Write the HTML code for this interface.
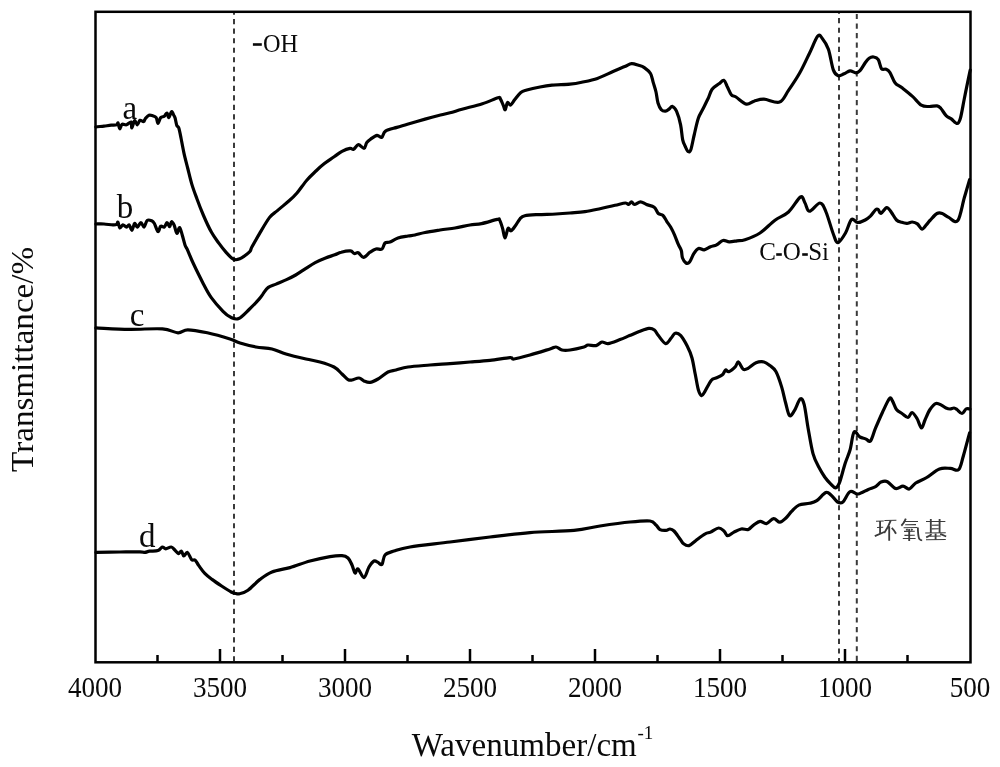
<!DOCTYPE html>
<html><head><meta charset="utf-8"><style>
html,body{margin:0;padding:0;background:#fff;width:1000px;height:767px;overflow:hidden}
svg{display:block;will-change:transform}
text{font-family:"Liberation Serif",serif;fill:#0a0a0a}
</style></head><body>
<svg width="1000" height="767" viewBox="0 0 1000 767">
<defs><clipPath id="cp"><rect x="95" y="11.5" width="875.5" height="651"/></clipPath></defs>
<g stroke="#3a3a3a" stroke-width="2" fill="none" clip-path="url(#cp)">
<line x1="234" y1="9.6" x2="234" y2="661" stroke-dasharray="5.2,4.31"/>
<line x1="839" y1="8.55" x2="839" y2="661" stroke-dasharray="5.2,4.35"/>
<line x1="856.8" y1="4.3" x2="856.8" y2="661" stroke-dasharray="5.2,4.38"/>
</g>
<g fill="none" stroke="#000" stroke-width="3.2" stroke-linejoin="round" stroke-linecap="round">
<path d="M95.9,127.0C97.2,126.8 101.5,126.4 104.0,126.1C106.5,125.8 109.1,125.4 111.2,125.2C113.3,125.0 115.5,125.2 116.6,124.8C117.7,124.4 117.5,122.3 118.0,123.0C118.5,123.7 119.1,128.6 119.8,128.8C120.5,129.0 120.9,125.0 122.0,124.3C123.1,123.6 125.0,125.2 126.5,124.8C128.0,124.4 130.1,121.5 131.0,122.0C131.9,122.5 131.3,128.1 131.9,127.9C132.5,127.7 133.7,121.2 134.6,120.7C135.5,120.2 136.4,124.9 137.3,124.8C138.2,124.7 138.9,120.8 140.0,120.3C141.1,119.8 142.7,121.9 143.6,121.6C144.5,121.3 144.5,119.5 145.4,118.5C146.3,117.5 147.8,115.8 149.0,115.3C150.2,114.8 151.4,115.4 152.6,115.8C153.8,116.2 155.3,116.3 156.2,117.6C157.1,118.9 157.2,123.4 158.0,123.4C158.8,123.4 159.6,118.8 160.7,117.6C161.8,116.4 163.2,117.0 164.3,116.2C165.4,115.4 166.2,112.8 167.0,113.0C167.8,113.2 168.1,117.8 168.8,117.6C169.6,117.4 170.7,112.1 171.5,111.7C172.3,111.3 173.2,114.2 173.8,115.3C174.4,116.3 174.6,116.3 175.1,118.0C175.6,119.7 176.2,123.8 176.8,125.5C177.4,127.2 178.1,125.9 178.8,128.0C179.5,130.1 180.2,133.9 181.0,138.0C181.8,142.1 182.8,147.7 183.9,152.8C185.0,157.9 186.5,163.3 187.8,168.5C189.1,173.7 190.3,179.0 191.8,184.1C193.3,189.2 195.1,193.8 197.0,199.0C198.9,204.2 201.1,209.9 203.5,215.5C205.9,221.1 208.9,227.7 211.5,232.3C214.1,236.9 216.4,239.8 218.8,243.2C221.2,246.5 224.0,250.0 226.1,252.4C228.2,254.8 230.1,256.7 231.6,257.9C233.1,259.1 233.9,259.5 235.3,259.7C236.7,259.9 238.3,259.4 239.8,258.8C241.3,258.2 242.7,257.2 244.4,256.0C246.1,254.8 248.6,253.0 249.9,251.5C251.2,250.0 250.3,249.9 252.0,246.8C253.7,243.7 256.9,238.0 259.8,233.1C262.7,228.2 266.7,221.2 269.6,217.4C272.5,213.7 274.1,213.4 277.4,210.6C280.6,207.8 285.8,203.7 289.1,200.8C292.4,197.9 294.1,196.4 297.0,193.0C299.9,189.6 303.6,183.9 306.8,180.2C310.1,176.4 313.6,173.3 316.5,170.5C319.4,167.7 321.5,165.9 324.4,163.6C327.3,161.3 331.2,158.9 334.1,156.8C337.0,154.8 339.4,152.7 342.0,151.3C344.6,149.9 348.1,148.6 350.0,148.3C351.9,148.0 352.2,149.9 353.6,149.3C355.0,148.7 356.6,144.9 358.3,144.7C360.1,144.5 362.7,148.7 364.1,148.3C365.5,148.0 365.6,144.2 366.7,142.6C367.8,141.0 369.2,140.1 370.9,138.9C372.6,137.7 375.3,135.6 377.1,135.3C378.9,135.1 380.4,138.1 381.8,137.4C383.2,136.7 383.0,132.8 385.5,131.1C388.0,129.4 393.2,128.5 396.9,127.4C400.5,126.3 402.7,125.7 407.4,124.3C412.1,122.9 419.9,120.6 425.1,119.1C430.3,117.6 434.5,116.5 438.6,115.5C442.8,114.5 446.1,113.8 450.0,112.8C453.9,111.8 456.6,110.7 462.0,109.2C467.4,107.7 476.4,105.7 482.4,103.8C488.4,101.9 495.0,98.6 498.0,97.8C501.0,97.0 499.5,97.7 500.4,99.0C501.3,100.3 502.6,103.8 503.4,105.6C504.2,107.4 504.5,110.3 505.2,109.8C505.9,109.3 506.5,103.4 507.4,102.6C508.3,101.8 509.4,105.5 510.6,105.0C511.8,104.5 513.1,101.7 514.8,99.6C516.5,97.5 518.8,94.0 520.8,92.4C522.8,90.8 523.6,90.9 526.8,90.0C530.0,89.1 535.8,87.8 540.0,87.0C544.2,86.2 547.0,85.7 552.0,85.2C557.0,84.7 565.0,84.7 570.0,84.2C575.0,83.7 577.1,83.3 581.7,82.3C586.3,81.3 592.2,80.2 597.4,78.4C602.6,76.6 608.4,73.5 613.0,71.5C617.6,69.5 621.7,67.9 624.8,66.6C627.9,65.3 629.3,63.9 631.6,63.7C633.9,63.5 636.4,64.7 638.5,65.3C640.6,65.9 642.3,66.2 644.3,67.6C646.3,69.0 649.0,71.0 650.5,73.5C652.0,76.0 652.3,79.3 653.2,82.4C654.1,85.5 655.2,88.6 656.0,92.0C656.8,95.4 657.1,100.0 658.0,103.0C658.9,106.0 660.1,108.4 661.4,109.8C662.6,111.2 664.2,111.3 665.5,111.2C666.8,111.1 667.9,109.9 669.0,109.1C670.1,108.3 671.1,106.1 672.4,106.4C673.6,106.8 675.1,108.1 676.5,111.2C677.9,114.3 679.6,120.1 680.6,124.9C681.6,129.7 681.9,136.2 682.7,139.9C683.5,143.6 684.5,144.9 685.4,146.8C686.3,148.8 687.3,151.2 688.2,151.6C689.1,152.0 689.9,152.3 690.9,149.5C691.9,146.7 693.0,139.8 694.3,134.5C695.5,129.2 697.0,122.1 698.4,118.0C699.8,113.9 700.9,113.0 702.5,109.8C704.1,106.6 706.4,102.2 708.0,98.8C709.6,95.4 710.3,91.7 712.1,89.2C713.9,86.7 717.0,85.3 719.0,83.8C721.0,82.3 722.4,79.8 723.8,80.3C725.2,80.8 726.0,84.1 727.2,86.5C728.5,88.9 729.8,93.0 731.3,94.7C732.8,96.5 733.5,95.4 736.0,97.0C738.5,98.6 743.3,103.4 746.3,104.1C749.3,104.8 751.2,102.0 754.1,101.2C757.0,100.4 759.7,99.1 763.9,99.2C768.1,99.3 775.4,103.6 779.5,102.1C783.6,100.6 785.1,95.3 788.5,90.4C791.9,85.5 796.3,79.0 799.8,72.8C803.3,66.6 806.5,59.3 809.5,53.2C812.5,47.1 815.5,38.7 817.6,36.2C819.7,33.7 820.5,36.2 822.3,38.4C824.1,40.6 826.6,44.0 828.4,49.3C830.2,54.5 831.7,65.5 833.3,69.9C834.9,74.3 836.4,75.1 838.2,75.7C840.0,76.3 842.1,74.6 844.1,73.8C846.1,73.0 848.0,71.1 850.0,70.9C852.0,70.7 854.1,72.8 855.8,72.8C857.5,72.8 858.4,72.4 860.0,70.7C861.6,69.0 863.7,64.9 865.2,62.8C866.7,60.7 867.7,59.3 869.1,58.3C870.5,57.3 872.2,56.8 873.7,57.0C875.2,57.2 877.0,57.6 878.3,59.6C879.6,61.6 880.2,67.1 881.5,68.7C882.8,70.3 884.7,68.7 886.1,69.3C887.5,69.9 888.5,70.3 890.0,72.6C891.5,74.9 893.2,80.5 895.2,83.0C897.2,85.5 898.9,85.4 901.7,87.6C904.5,89.8 908.9,93.2 912.2,96.1C915.5,99.0 918.5,103.5 921.3,105.2C924.1,106.9 926.5,106.4 929.1,106.5C931.7,106.6 935.0,105.6 937.0,105.9C939.0,106.2 939.4,106.9 940.9,108.5C942.4,110.1 944.4,113.9 946.1,115.6C947.8,117.3 949.4,117.6 951.3,118.9C953.1,120.2 955.7,123.6 957.2,123.5C958.7,123.4 959.2,122.4 960.4,118.3C961.6,114.2 963.0,105.2 964.3,98.7C965.6,92.2 967.3,83.9 968.3,79.1C969.3,74.3 969.9,71.5 970.2,70.0"/>
<path d="M95.9,224.0C97.2,224.0 101.2,223.8 104.0,224.0C106.8,224.2 110.9,224.8 113.0,224.9C115.1,225.0 115.8,224.9 116.6,224.4C117.4,223.9 117.5,221.6 118.0,222.2C118.5,222.8 119.0,227.6 119.8,228.0C120.6,228.4 121.8,225.1 122.9,224.9C124.0,224.8 125.5,227.1 126.5,227.1C127.5,227.1 128.3,224.4 129.2,224.9C130.1,225.4 131.0,230.5 131.9,230.3C132.8,230.1 133.7,224.0 134.6,223.5C135.5,223.0 136.2,227.2 137.3,227.1C138.4,226.9 139.8,222.6 140.9,222.6C142.0,222.6 143.1,227.5 144.1,227.1C145.1,226.7 145.9,221.4 147.2,220.4C148.5,219.4 150.5,220.3 151.7,220.8C152.9,221.3 153.3,221.7 154.4,223.5C155.5,225.3 156.9,231.2 158.0,231.6C159.1,232.0 159.6,226.9 160.7,226.2C161.8,225.4 163.2,227.7 164.3,227.1C165.4,226.5 166.1,222.7 167.0,222.6C167.9,222.5 168.9,226.8 169.7,226.7C170.4,226.5 170.8,221.9 171.5,221.7C172.2,221.5 173.3,223.4 174.2,225.3C175.1,227.2 176.0,233.0 176.9,233.4C177.8,233.8 178.7,227.3 179.6,227.6C180.5,227.9 181.4,232.3 182.3,235.2C183.2,238.1 184.1,242.4 185.0,245.0C185.9,247.6 186.4,247.4 187.8,250.6C189.2,253.8 191.1,258.8 193.7,264.3C196.3,269.9 200.5,278.3 203.4,283.9C206.3,289.4 208.0,293.0 211.3,297.6C214.6,302.2 219.8,308.0 223.0,311.3C226.2,314.6 228.2,316.1 230.8,317.3C233.4,318.5 235.6,319.9 238.7,318.6C241.8,317.3 245.7,312.8 249.1,309.5C252.5,306.2 256.8,301.7 259.1,299.1C261.4,296.5 261.5,295.8 263.0,293.9C264.5,291.9 266.1,289.0 268.3,287.4C270.5,285.8 273.1,285.4 276.1,284.1C279.1,282.8 283.2,281.1 286.5,279.6C289.8,278.1 292.6,276.8 295.7,275.0C298.8,273.2 301.6,271.2 304.8,269.1C308.1,267.0 311.7,264.5 315.2,262.6C318.7,260.8 322.3,259.3 325.6,258.0C328.9,256.7 332.2,255.8 334.8,254.8C337.4,253.8 338.7,252.8 341.3,252.2C343.9,251.5 348.2,250.7 350.4,250.9C352.6,251.1 353.0,253.2 354.3,253.5C355.6,253.8 356.8,252.2 358.3,252.8C359.8,253.5 361.6,257.5 363.5,257.4C365.4,257.3 367.9,253.6 370.0,252.2C372.1,250.8 374.0,249.5 376.0,249.0C378.0,248.5 380.5,250.0 382.0,249.0C383.5,248.0 383.7,244.2 385.0,243.0C386.3,241.8 387.8,242.8 390.0,242.0C392.2,241.2 395.0,239.0 398.0,238.0C401.0,237.0 405.2,236.5 408.0,236.0C410.8,235.5 412.2,235.6 415.0,235.0C417.8,234.4 420.8,233.3 425.0,232.5C429.2,231.7 435.0,230.8 440.0,230.0C445.0,229.2 450.0,228.8 455.0,228.0C460.0,227.2 465.6,225.7 470.0,225.0C474.4,224.3 477.1,224.5 481.6,223.6C486.1,222.7 494.2,220.0 497.2,219.4C500.2,218.8 498.7,218.5 499.6,220.0C500.5,221.5 501.7,225.4 502.6,228.4C503.5,231.4 504.1,238.0 505.0,238.0C505.9,238.0 507.0,229.6 508.0,228.4C509.0,227.2 509.8,231.2 511.0,230.8C512.2,230.4 513.7,228.0 515.2,226.0C516.7,224.0 518.4,220.5 520.0,218.8C521.6,217.1 521.8,216.5 524.8,215.8C527.8,215.1 532.8,214.9 538.0,214.6C543.2,214.3 550.7,214.3 556.0,214.0C561.3,213.7 565.2,213.4 570.0,213.0C574.8,212.6 580.0,212.4 585.0,211.7C590.0,211.0 595.0,209.8 600.0,208.7C605.0,207.6 610.8,206.2 615.0,205.3C619.2,204.4 623.2,203.1 625.5,203.0C627.8,202.9 627.5,204.7 628.5,204.5C629.5,204.3 630.5,201.8 631.5,201.8C632.5,201.8 633.0,204.5 634.5,204.5C636.0,204.5 638.5,201.8 640.5,201.8C642.5,201.8 644.2,203.6 646.5,204.5C648.8,205.4 652.2,205.7 654.2,207.2C656.2,208.7 656.8,212.1 658.3,213.5C659.8,214.9 661.6,214.2 663.0,215.5C664.4,216.8 665.4,219.3 666.7,221.3C668.0,223.3 669.6,225.2 670.9,227.5C672.2,229.8 673.3,232.0 674.5,234.8C675.7,237.6 677.1,241.6 678.2,244.2C679.3,246.8 680.6,248.2 681.3,250.5C682.0,252.8 681.7,255.9 682.5,258.0C683.3,260.1 684.8,262.3 686.0,263.0C687.2,263.7 688.3,263.6 689.6,262.0C690.9,260.4 692.3,255.9 693.8,253.6C695.3,251.3 696.8,249.0 698.5,248.4C700.2,247.8 702.2,250.1 704.2,249.8C706.2,249.5 708.4,247.6 710.5,246.8C712.6,246.0 714.6,245.9 716.7,244.8C718.8,243.8 720.9,241.0 723.0,240.5C725.1,240.0 726.9,241.8 729.2,241.8C731.5,241.9 734.4,241.2 737.0,240.8C739.6,240.5 741.2,241.0 745.0,239.7C748.8,238.4 755.0,236.2 760.0,233.0C765.0,229.8 770.2,223.7 775.0,220.2C779.8,216.7 784.2,215.9 788.5,212.0C792.8,208.1 797.8,198.5 800.5,197.0C803.2,195.5 803.5,200.6 805.0,203.0C806.5,205.4 807.0,211.2 809.5,211.2C812.0,211.2 817.2,202.9 820.0,203.0C822.8,203.1 823.8,206.8 826.0,212.0C828.2,217.2 831.5,229.4 833.5,234.5C835.5,239.6 836.0,242.9 838.0,242.7C840.0,242.4 843.2,236.9 845.5,233.0C847.8,229.1 849.5,221.2 851.5,219.5C853.5,217.8 855.2,222.4 857.5,222.5C859.8,222.6 863.1,221.1 865.2,220.0C867.4,218.9 868.6,217.8 870.4,216.1C872.1,214.4 874.4,210.7 875.7,209.6C877.0,208.5 877.4,208.9 878.3,209.6C879.2,210.2 879.5,213.8 880.9,213.5C882.3,213.2 885.0,207.8 886.7,207.6C888.4,207.4 889.7,210.1 891.3,212.2C892.9,214.3 894.8,218.3 896.5,220.0C898.2,221.7 900.0,221.8 901.7,222.3C903.5,222.9 905.2,223.4 907.0,223.3C908.8,223.2 910.5,221.9 912.2,222.0C913.9,222.1 915.8,222.7 917.4,223.9C919.0,225.1 920.5,229.0 922.0,229.1C923.5,229.2 925.1,226.1 926.5,224.6C927.9,223.1 928.6,221.8 930.4,220.0C932.1,218.2 935.0,214.6 937.0,213.5C939.0,212.4 940.2,212.8 942.2,213.5C944.2,214.2 946.1,216.2 948.7,217.4C951.3,218.6 955.2,223.9 957.8,220.6C960.4,217.3 962.3,204.6 964.3,197.8C966.3,191.0 968.7,182.6 969.6,179.6"/>
<path d="M95.9,327.9C101.4,328.1 117.9,329.1 129.0,329.3C140.1,329.5 154.2,328.3 162.4,328.9C170.6,329.5 173.8,332.6 178.0,332.8C182.2,333.0 182.9,329.8 187.8,329.8C192.7,329.8 200.3,331.3 207.3,332.8C214.3,334.3 224.6,337.3 230.0,339.0C235.4,340.7 235.7,341.7 240.0,343.0C244.3,344.3 250.7,346.0 256.0,347.0C261.3,348.0 267.0,347.8 272.0,349.0C277.0,350.2 280.3,352.3 286.0,354.0C291.7,355.7 300.3,357.7 306.0,359.0C311.7,360.3 315.3,360.7 320.0,362.0C324.7,363.3 330.3,365.0 334.0,367.0C337.7,369.0 339.7,371.9 342.0,374.0C344.3,376.1 346.3,378.6 348.0,379.6C349.7,380.6 350.2,380.3 352.0,380.0C353.8,379.7 357.0,377.8 359.0,378.0C361.0,378.2 362.2,380.3 364.0,381.0C365.8,381.7 367.7,382.7 370.0,382.4C372.3,382.1 375.0,380.7 378.0,379.0C381.0,377.3 385.0,373.5 388.0,372.0C391.0,370.5 392.7,370.8 396.0,370.0C399.3,369.2 402.3,367.8 408.0,367.0C413.7,366.2 423.0,365.6 430.0,365.0C437.0,364.4 443.3,364.1 450.0,363.6C456.7,363.1 463.3,362.5 470.0,362.0C476.7,361.5 483.3,361.1 490.0,360.4C496.7,359.7 506.0,357.8 510.0,357.6C514.0,357.4 510.7,359.4 514.0,359.0C517.3,358.6 524.0,356.7 530.0,355.0C536.0,353.3 545.7,350.3 550.0,349.0C554.3,347.7 554.0,346.8 556.0,347.0C558.0,347.2 559.7,349.5 562.0,350.0C564.3,350.5 566.3,350.5 570.0,350.0C573.7,349.5 581.0,347.8 584.0,347.0C587.0,346.2 586.0,345.2 588.0,345.0C590.0,344.8 593.7,346.1 596.0,345.6C598.3,345.1 600.0,342.3 602.0,342.0C604.0,341.7 605.0,344.0 608.0,343.6C611.0,343.2 616.4,340.9 620.0,339.6C623.6,338.3 626.4,336.9 629.6,335.6C632.8,334.3 636.0,332.8 639.2,331.6C642.4,330.4 646.3,328.7 648.8,328.4C651.3,328.1 652.8,328.8 654.4,330.0C656.0,331.2 656.5,333.3 658.4,335.6C660.3,337.9 663.5,343.2 665.6,343.6C667.7,344.0 669.6,339.7 671.2,338.0C672.8,336.3 673.6,333.6 675.2,333.2C676.8,332.8 678.8,333.5 680.8,335.6C682.8,337.7 685.3,342.3 687.2,346.0C689.1,349.7 690.7,353.3 692.0,358.0C693.3,362.7 694.1,368.7 695.2,374.0C696.3,379.3 697.3,386.4 698.4,390.0C699.5,393.6 700.5,395.3 701.6,395.6C702.7,395.9 703.2,394.1 704.8,391.6C706.4,389.1 709.3,382.7 711.2,380.4C713.1,378.1 714.1,378.9 716.0,378.0C717.9,377.1 720.8,376.1 722.4,374.8C724.0,373.5 724.5,370.5 725.6,370.0C726.7,369.5 727.2,372.1 728.8,371.6C730.4,371.1 733.6,368.4 735.2,366.8C736.8,365.2 737.1,361.6 738.4,362.0C739.7,362.4 741.6,368.1 743.2,369.2C744.8,370.3 745.9,369.5 748.0,368.4C750.1,367.3 753.3,363.9 756.0,362.8C758.7,361.7 761.7,361.5 764.0,362.0C766.3,362.5 768.0,364.0 770.0,365.6C772.0,367.2 773.9,367.9 775.9,371.5C777.9,375.1 780.1,381.9 781.7,387.1C783.3,392.3 784.3,398.1 785.6,402.8C786.9,407.5 788.0,414.2 789.5,415.5C791.0,416.8 792.6,413.4 794.4,410.6C796.2,407.8 798.7,399.9 800.3,398.9C801.9,397.9 802.9,399.8 804.2,404.7C805.5,409.6 806.6,420.0 808.1,428.2C809.6,436.4 811.2,447.1 813.0,453.6C814.8,460.1 816.9,463.4 818.9,467.3C820.9,471.2 822.8,474.2 824.7,477.0C826.7,479.8 828.8,482.1 830.6,483.9C832.4,485.7 834.0,488.0 835.5,487.8C837.0,487.6 837.8,487.0 839.4,482.9C841.0,478.8 843.4,468.8 845.2,463.3C847.0,457.8 848.6,454.9 850.1,449.7C851.6,444.5 852.4,434.2 854.0,432.1C855.6,430.0 857.9,435.9 859.9,437.0C861.9,438.1 864.0,438.2 865.8,438.9C867.6,439.5 869.0,442.7 870.6,440.9C872.2,439.1 873.5,432.9 875.5,428.2C877.5,423.5 880.1,417.4 882.4,412.5C884.7,407.6 887.8,400.4 889.5,398.5C891.2,396.6 891.3,399.2 892.5,401.0C893.7,402.8 894.9,407.4 896.5,409.5C898.1,411.6 900.1,412.2 902.0,413.5C903.9,414.8 906.3,417.7 908.0,417.5C909.7,417.3 910.5,412.3 912.0,412.5C913.5,412.7 915.4,415.9 917.0,418.5C918.6,421.1 920.2,427.8 921.5,428.0C922.8,428.2 923.6,423.1 925.0,420.0C926.4,416.9 928.2,412.2 930.0,409.5C931.8,406.8 934.0,404.2 936.0,403.5C938.0,402.8 940.3,404.8 942.0,405.5C943.7,406.2 944.7,407.4 946.0,408.0C947.3,408.6 948.7,409.0 950.0,409.0C951.3,409.0 952.8,407.9 954.0,408.0C955.2,408.1 955.7,408.6 957.0,409.5C958.3,410.4 960.5,413.6 962.0,413.5C963.5,413.4 964.7,409.8 966.0,409.0C967.3,408.2 969.3,409.0 970.0,409.0"/>
<path d="M96.0,552.4C100.0,552.3 112.7,552.1 120.0,552.0C127.3,551.9 135.9,551.7 140.0,551.8C144.1,551.9 143.2,552.5 144.8,552.4C146.4,552.3 147.4,551.5 149.6,551.2C151.8,550.9 155.9,551.3 158.0,550.6C160.1,549.9 160.9,547.3 162.2,547.0C163.5,546.7 164.3,548.8 165.8,548.8C167.3,548.8 169.7,546.8 171.2,547.0C172.7,547.2 173.6,548.9 174.8,550.0C176.0,551.1 177.3,553.4 178.4,553.6C179.5,553.8 180.5,550.8 181.4,551.2C182.3,551.6 182.8,555.8 183.8,556.0C184.8,556.2 186.1,551.8 187.4,552.4C188.7,553.0 190.3,558.3 191.6,559.6C192.9,560.9 194.0,559.2 195.2,560.2C196.4,561.2 197.2,563.4 198.8,565.6C200.4,567.8 202.6,571.1 204.8,573.4C207.0,575.7 209.2,577.3 212.0,579.4C214.8,581.5 218.4,583.9 221.6,586.0C224.8,588.1 229.0,590.8 231.2,592.0C233.4,593.2 233.4,592.9 234.8,593.2C236.2,593.5 237.4,594.3 239.6,593.8C241.8,593.3 244.6,592.6 248.0,590.2C251.4,587.8 256.0,582.4 260.0,579.4C264.0,576.4 267.0,574.0 272.0,572.0C277.0,570.0 283.7,569.4 290.0,567.6C296.3,565.8 303.3,562.8 310.0,561.0C316.7,559.2 324.7,557.5 330.0,556.6C335.3,555.7 339.0,555.4 342.0,555.6C345.0,555.8 346.3,556.4 348.0,558.0C349.7,559.6 350.8,562.5 352.0,565.0C353.2,567.5 354.0,572.3 355.0,573.0C356.0,573.7 356.5,568.2 358.0,569.0C359.5,569.8 362.2,577.9 364.0,577.6C365.8,577.3 367.3,569.8 369.0,567.0C370.7,564.2 372.5,561.8 374.0,561.0C375.5,560.2 376.7,561.8 378.0,562.4C379.3,563.0 380.8,565.6 382.0,564.4C383.2,563.2 383.0,557.2 385.0,555.0C387.0,552.8 389.8,552.3 394.0,551.0C398.2,549.7 400.7,548.5 410.0,547.0C419.3,545.5 436.7,543.7 450.0,542.0C463.3,540.3 476.7,538.6 490.0,537.0C503.3,535.4 516.0,533.7 530.0,532.6C544.0,531.5 562.3,531.5 574.0,530.4C585.7,529.3 590.7,527.4 600.0,526.0C609.3,524.6 621.7,522.8 630.0,522.0C638.3,521.2 645.7,520.5 650.0,521.0C654.3,521.5 654.3,523.6 656.0,525.0C657.7,526.4 658.3,528.7 660.0,529.6C661.7,530.5 664.3,530.5 666.0,530.4C667.7,530.3 668.7,528.9 670.0,529.0C671.3,529.1 672.3,529.3 674.0,531.0C675.7,532.7 678.4,536.9 680.0,539.0C681.6,541.1 682.1,542.7 683.6,543.8C685.1,544.9 686.9,546.2 689.0,545.6C691.1,545.0 693.5,542.2 696.2,540.2C698.9,538.2 702.8,535.2 705.2,533.9C707.6,532.5 708.4,533.1 710.6,532.1C712.9,531.1 716.5,528.1 718.7,528.0C721.0,527.9 722.6,529.9 724.1,531.2C725.6,532.5 726.1,535.6 727.7,535.7C729.4,535.9 731.8,533.2 734.0,532.1C736.2,531.0 738.8,529.5 741.2,529.0C743.6,528.5 746.3,530.1 748.4,529.4C750.5,528.7 751.8,526.2 753.8,524.9C755.8,523.5 758.0,521.5 760.1,521.3C762.2,521.1 764.1,524.0 766.4,523.6C768.6,523.2 771.4,518.8 773.6,518.6C775.9,518.4 777.8,522.4 779.9,522.2C782.0,522.1 784.2,519.5 786.2,517.7C788.2,515.9 789.5,513.5 791.6,511.4C793.7,509.3 795.8,506.5 798.8,505.1C801.8,503.8 806.6,504.1 809.6,503.3C812.6,502.6 814.1,502.4 816.8,500.6C819.5,498.8 823.4,493.4 825.8,492.5C828.2,491.6 829.2,493.6 831.2,495.2C833.2,496.8 835.5,500.9 837.5,502.0C839.5,503.1 840.8,503.7 842.9,502.0C845.0,500.3 847.5,492.9 850.1,491.6C852.7,490.3 855.2,494.4 858.2,494.0C861.2,493.6 865.4,490.6 868.3,489.4C871.2,488.2 873.5,487.8 875.6,486.6C877.7,485.4 879.0,482.9 881.0,482.1C883.0,481.3 885.0,480.6 887.4,481.7C889.8,482.8 893.0,487.8 895.6,488.5C898.2,489.2 900.7,486.0 903.0,486.1C905.3,486.2 907.2,489.5 909.3,489.0C911.4,488.5 912.8,484.9 915.7,483.0C918.6,481.1 922.7,479.9 926.7,477.5C930.7,475.1 935.5,470.4 939.5,468.9C943.5,467.4 947.2,468.3 950.4,468.4C953.6,468.5 956.5,471.7 958.6,469.7C960.7,467.7 961.4,462.6 963.2,456.5C965.0,450.4 968.5,436.8 969.6,432.8"/>
</g>
<rect x="95.5" y="11.8" width="875" height="650.5" fill="none" stroke="#000" stroke-width="2.5"/>
<g stroke="#000" stroke-width="2.5">
<line x1="157.5" y1="662" x2="157.5" y2="655"/><line x1="220.0" y1="662" x2="220.0" y2="649"/><line x1="282.5" y1="662" x2="282.5" y2="655"/><line x1="345.0" y1="662" x2="345.0" y2="649"/><line x1="407.5" y1="662" x2="407.5" y2="655"/><line x1="470.0" y1="662" x2="470.0" y2="649"/><line x1="532.5" y1="662" x2="532.5" y2="655"/><line x1="595.0" y1="662" x2="595.0" y2="649"/><line x1="657.5" y1="662" x2="657.5" y2="655"/><line x1="720.0" y1="662" x2="720.0" y2="649"/><line x1="782.5" y1="662" x2="782.5" y2="655"/><line x1="845.0" y1="662" x2="845.0" y2="649"/><line x1="907.5" y1="662" x2="907.5" y2="655"/>
</g>
<g font-size="29.5">
<text x="67.9" y="696.8" textLength="54.2" lengthAdjust="spacingAndGlyphs">4000</text><text x="192.9" y="696.8" textLength="54.2" lengthAdjust="spacingAndGlyphs">3500</text><text x="317.9" y="696.8" textLength="54.2" lengthAdjust="spacingAndGlyphs">3000</text><text x="442.9" y="696.8" textLength="54.2" lengthAdjust="spacingAndGlyphs">2500</text><text x="567.9" y="696.8" textLength="54.2" lengthAdjust="spacingAndGlyphs">2000</text><text x="692.9" y="696.8" textLength="54.2" lengthAdjust="spacingAndGlyphs">1500</text><text x="817.9" y="696.8" textLength="54.2" lengthAdjust="spacingAndGlyphs">1000</text><text x="949.7" y="696.8" textLength="40.7" lengthAdjust="spacingAndGlyphs">500</text>
</g>
<g font-size="33">
<text x="122.4" y="119.3">a</text>
<text x="116.8" y="217.6">b</text>
<text x="129.7" y="325.9">c</text>
<text x="138.9" y="546.5">d</text>
</g>
<rect x="252.9" y="43.2" width="8.9" height="2.6" fill="#0a0a0a"/>
<text x="262.9" y="51.6" font-size="24.3">OH</text>
<g font-size="25">
<text x="759.2" y="260.2">C</text>
<rect x="776.2" y="253.2" width="5.6" height="2.6" fill="#0a0a0a"/>
<text x="782.8" y="260.2">O</text>
<rect x="802.2" y="253.2" width="5.6" height="2.6" fill="#0a0a0a"/>
<text x="808.2" y="260.2">Si</text>
</g>
<g transform="translate(870,512) scale(0.08)" stroke="#3c3c3c" fill="none" stroke-linecap="butt">
<path stroke-width="13" d="M75,115 L172,112 M88,195 L165,191 M180,105 L330,103 M420,120 L600,118 M440,160 L575,158 M420,197 L592,195 M425,242 L560,240 M430,292 L560,290 M410,332 L570,330 M700,120 L942,118 M770,166 L860,164 M770,211 L860,209 M690,262 L947,260 M750,302 L885,300 M700,347 L947,345"/>
<path stroke-width="23" d="M126,112 L126,272 M60,302 L178,250 M258,108 Q230,190 178,262 M240,178 L240,358 M272,198 Q305,230 325,272 M448,82 Q425,140 392,172 M598,195 Q600,300 615,335 Q630,355 652,355 M490,214 L490,362 M455,212 L470,232 M530,212 L515,232 M760,88 L760,262 M870,88 L870,262 M770,278 Q740,300 702,318 M878,274 Q915,290 952,306 M820,268 L820,347"/>
</g>
<text x="0" y="0" font-size="32.5" transform="translate(32.7,471.9) rotate(-90)" textLength="225" lengthAdjust="spacingAndGlyphs">Transmittance/%</text>
<text x="411.8" y="755.5" font-size="33.8" textLength="225" lengthAdjust="spacingAndGlyphs">Wavenumber/cm</text>
<text x="637.5" y="739" font-size="19">-1</text>
</svg>
</body></html>
